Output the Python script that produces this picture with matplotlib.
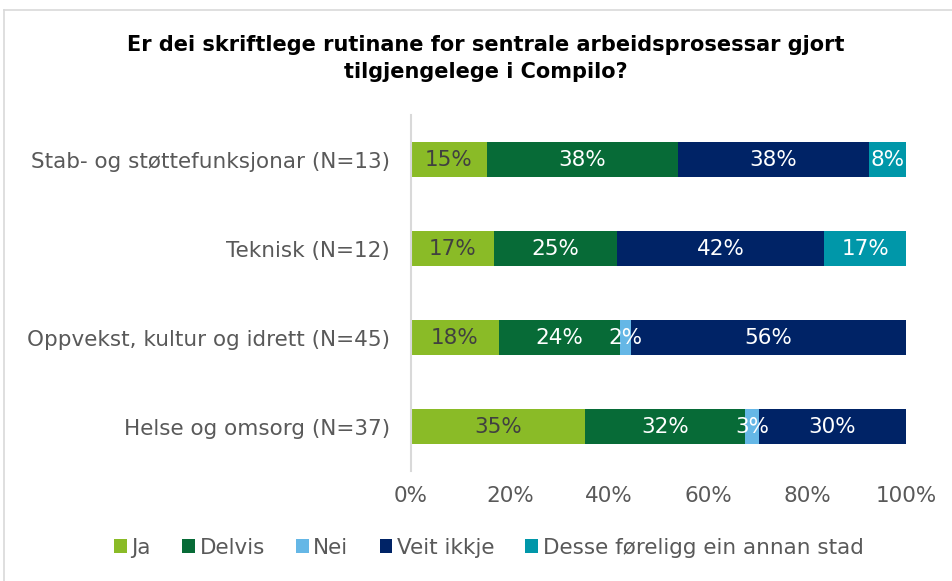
import matplotlib.pyplot as plt
import numpy as np

# Data
kategoriar = ["Stab- og støttefunksjonar (N=13)", "Teknisk (N=12)",
              "Oppvekst, kultur og idrett (N=45)", "Helse og omsorg (N=37)"]
serienamn = ["Ja", "Delvis", "Nei", "Veit ikkje", "Desse føreligg ein annan stad"]
ja = [15.4, 16.7, 17.8, 35.1]
delvis = [38.5, 25.0, 24.4, 32.4]
nei = [0.0, 0.0, 2.2, 2.7]
veit_ikkje = [38.5, 41.7, 55.6, 29.7]
annan_stad = [7.7, 16.7, 0.0, 0.0]
fargar = ["#8ABB27", "#076B37", "#65B7E6", "#002366", "#0097A9"]
tekstfargar = ["#404040", "white", "white", "white", "white"]

serier = [ja, delvis, nei, veit_ikkje, annan_stad]

fig = plt.figure(figsize=(9.53, 5.81), dpi=100)
ax = fig.add_axes([0.431, 0.189, 0.52, 0.613])

y = np.arange(len(kategoriar))
venstre = np.zeros(len(kategoriar))
for verdiar, farge, tf, namn in zip(serier, fargar, tekstfargar, serienamn):
    verdiar = np.array(verdiar)
    ax.barh(y, verdiar, left=venstre, height=0.39, color=farge, label=namn)
    for yi, v, l in zip(y, verdiar, venstre):
        if v > 0:
            ax.text(l + v / 2, yi, f"{v:.0f}%", ha="center", va="center",
                    color=tf, fontsize=15.5)
    venstre += verdiar

ax.set_xlim(0, 100)
ax.set_ylim(3.5, -0.5)
ax.set_yticks(y)
ax.set_yticklabels(kategoriar, fontsize=15.5, color="#595959")
ax.set_xticks(np.arange(0, 101, 20))
ax.set_xticklabels([f"{t}%" for t in range(0, 101, 20)], fontsize=15.5, color="#595959")
ax.tick_params(axis="y", length=0, pad=15)
ax.tick_params(axis="x", length=0, pad=11)
for s in ["top", "right", "bottom"]:
    ax.spines[s].set_visible(False)
ax.spines["left"].set_color("#D9D9D9")
ax.spines["left"].set_linewidth(1.5)

fig.text(0.510, 0.899, "Er dei skriftlege rutinane for sentrale arbeidsprosessar gjort\ntilgjengelege i Compilo?",
         ha="center", va="center", fontsize=15, fontweight="bold", color="black",
         linespacing=1.45)

leg = fig.legend(loc="center", bbox_to_anchor=(0.513, 0.057), ncol=5,
                 frameon=False, fontsize=15.5, handlelength=0.6, handleheight=0.6,
                 handletextpad=0.2, columnspacing=1.45, labelcolor="#595959")

# ramme rundt figuren
fig.add_artist(plt.Line2D([0.004, 1.0], [0.983, 0.983], color="#D9D9D9", lw=1.2))
fig.add_artist(plt.Line2D([0.004, 0.004], [0.0, 0.983], color="#D9D9D9", lw=1.2))

fig.savefig("out.png", dpi=100)
